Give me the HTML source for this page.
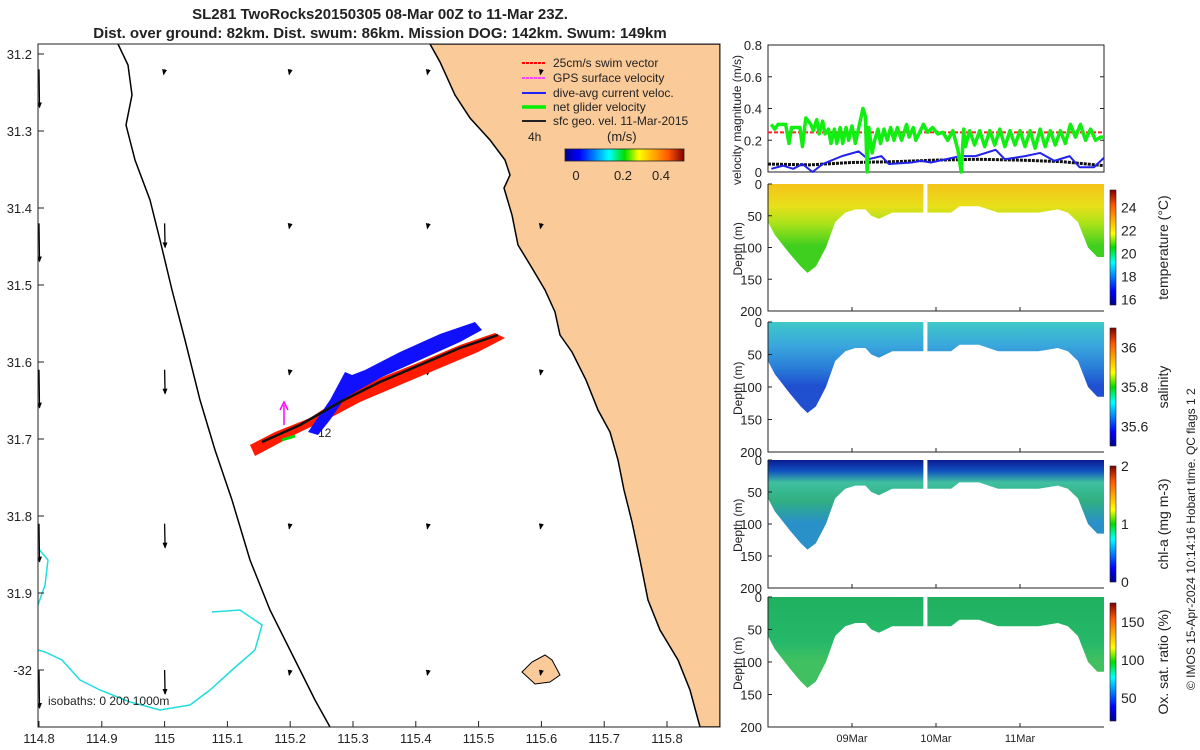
<!DOCTYPE html>
<html><head><meta charset="utf-8">
<style>
html,body{margin:0;padding:0;background:#fff;}
svg{display:block;font-family:"Liberation Sans",sans-serif;}
text{fill:#222;}
</style></head>
<body>
<svg id="fig" width="1200" height="750" viewBox="0 0 1200 750" xmlns="http://www.w3.org/2000/svg">
<defs>
<linearGradient id="jet" x1="0" y1="0" x2="1" y2="0">
<stop offset="0" stop-color="#00008f"/><stop offset="0.12" stop-color="#0000ff"/><stop offset="0.37" stop-color="#00ffff"/><stop offset="0.5" stop-color="#00dd00"/><stop offset="0.62" stop-color="#ffff00"/><stop offset="0.87" stop-color="#ff5500"/><stop offset="1" stop-color="#800000"/>
</linearGradient>
<linearGradient id="jetv" x1="0" y1="1" x2="0" y2="0">
<stop offset="0" stop-color="#00008f"/><stop offset="0.12" stop-color="#0000ff"/><stop offset="0.37" stop-color="#00ffff"/><stop offset="0.5" stop-color="#00dd00"/><stop offset="0.62" stop-color="#ffff00"/><stop offset="0.87" stop-color="#ff5500"/><stop offset="1" stop-color="#800000"/>
</linearGradient>
<linearGradient id="gT" x1="0" y1="0" x2="0" y2="1"><stop offset="0" stop-color="#f5c21a"/><stop offset="0.25" stop-color="#e8e01a"/><stop offset="0.45" stop-color="#a8e21a"/><stop offset="0.7" stop-color="#3fcf1f"/></linearGradient>
<linearGradient id="gS" x1="0" y1="0" x2="0" y2="1"><stop offset="0" stop-color="#3ec8c8"/><stop offset="0.25" stop-color="#3aa8dc"/><stop offset="0.5" stop-color="#2a7ed8"/><stop offset="0.7" stop-color="#2050d0"/></linearGradient>
<linearGradient id="gC" x1="0" y1="0" x2="0" y2="1"><stop offset="0" stop-color="#0a1a90"/><stop offset="0.12" stop-color="#1050c0"/><stop offset="0.25" stop-color="#40c0a0"/><stop offset="0.45" stop-color="#30b080"/><stop offset="0.7" stop-color="#2a90c8"/></linearGradient>
<linearGradient id="gO" x1="0" y1="0" x2="0" y2="1"><stop offset="0" stop-color="#1fb060"/><stop offset="0.5" stop-color="#26b86a"/><stop offset="0.7" stop-color="#40c060"/></linearGradient>
<marker id="ah" markerUnits="userSpaceOnUse" markerWidth="6" markerHeight="6" refX="5" refY="3" orient="auto"><path d="M0,0.5 L6,3 L0,5.5 z" fill="#000"/></marker>
</defs>

<text x="380" y="19" text-anchor="middle" font-size="15" font-weight="bold">SL281 TwoRocks20150305 08-Mar 00Z to 11-Mar 23Z.</text>
<text x="380" y="38" text-anchor="middle" font-size="15" font-weight="bold">Dist. over ground: 82km. Dist. swum: 86km. Mission DOG: 142km. Swum: 149km</text>

<g id="map">
<clipPath id="mapclip"><rect x="38" y="44" width="682" height="683"/></clipPath>
<g clip-path="url(#mapclip)">
<rect x="38" y="44" width="682" height="683" fill="#fff"/>
<path fill="#facb98" stroke="#000" stroke-width="1.5" d="M430,44 L440,62 L455,95 L470,118 L490,140 L505,160 L510,175 L504,188 L512,215 L518,245 L532,268 L545,290 L555,312 L560,335 L572,352 L586,380 L598,410 L610,432 L618,460 L624,490 L632,522 L640,560 L648,600 L660,630 L678,660 L690,690 L700,727 L720,727 L720,44 Z"/>
<path fill="#facb98" stroke="#000" stroke-width="1" d="M522,672 L532,662 L545,655 L552,660 L560,675 L550,682 L535,684 Z"/>
<path fill="none" stroke="#000" stroke-width="1.5" d="M118,44 L128,65 L132,95 L126,125 L135,160 L150,200 L160,240 L172,290 L185,340 L200,400 L215,450 L232,500 L250,560 L270,610 L295,660 L315,700 L330,727"/>
<path fill="none" stroke="#22dddd" stroke-width="1.5" d="M38,548 L48,560 L45,585 L38,605 M212,612 L240,610 L262,625 L255,650 L232,670 L210,690 L190,705 L160,710 L130,702 L100,690 L80,680 L62,660 L45,652 L38,650"/>
<g id="arrows"></g>
<path fill="#ff1a00" d="M250,445 L275,432 L310,418 L345,395 L380,378 L420,362 L460,345 L495,333 L505,338 L478,352 L440,368 L400,385 L360,402 L330,418 L300,432 L270,448 L255,456 Z"/>
<path fill="#1010ff" d="M330,400 L345,372 L352,375 L365,370 L400,352 L440,334 L475,322 L482,330 L460,342 L420,360 L380,378 L345,398 L330,420 L318,435 L308,432 Z"/>
<path fill="none" stroke="#111" stroke-width="2.5" d="M262,442 L300,425 L340,402 L380,382 L420,365 L460,348 L498,335"/>
<path fill="none" stroke="#00dd00" stroke-width="3" d="M282,440 L295,436"/>
<line x1="284" y1="425" x2="284" y2="405" stroke="#ff00ff" stroke-width="1.5"/>
<path d="M280,410 L284,402 L288,410" fill="none" stroke="#ff00ff" stroke-width="1.5"/>
<text x="318" y="437" font-size="12">12</text>
<text x="48" y="705" font-size="12">isobaths: 0   200  1000m</text>
</g>
<rect x="38" y="44" width="682" height="683" fill="none" stroke="#222" stroke-width="1"/>
<g font-size="12">
<line x1="522" y1="63" x2="546" y2="63" stroke="#ff0000" stroke-width="2" stroke-dasharray="3,1"/><text x="553" y="67">25cm/s swim vector</text>
<line x1="522" y1="78" x2="546" y2="78" stroke="#ff44ff" stroke-width="2" stroke-dasharray="3,1"/><text x="553" y="82">GPS surface velocity</text>
<line x1="522" y1="93" x2="546" y2="93" stroke="#2222ff" stroke-width="2"/><text x="553" y="97">dive-avg current veloc.</text>
<line x1="522" y1="107" x2="546" y2="107" stroke="#00ee00" stroke-width="3.5"/><text x="553" y="111">net glider velocity</text>
<line x1="522" y1="121" x2="546" y2="121" stroke="#222" stroke-width="2"/><text x="553" y="125">sfc geo. vel. 11-Mar-2015</text>
<text x="528" y="141">4h</text><text x="607" y="141" font-size="13">(m/s)</text>
<rect x="565" y="149" width="119" height="12" fill="url(#jet)" stroke="#222" stroke-width="0.8"/>
<text x="576" y="180" text-anchor="middle" font-size="13">0</text><text x="623" y="180" text-anchor="middle" font-size="13">0.2</text><text x="661" y="180" text-anchor="middle" font-size="13">0.4</text>
</g>
<g id="mapticks" font-size="13"></g>
</g>

<g id="right"></g>
<text transform="translate(1195,690) rotate(-90)" font-size="12">© IMOS 15-Apr-2024 10:14:16 Hobart time. QC flags 1  2</text>
</svg>

<script>
// ---------- map data ----------
const lonTicks = [114.8,114.9,115,115.1,115.2,115.3,115.4,115.5,115.6,115.7,115.8];
const lonLabels = ["114.8","114.9","115","115.1","115.2","115.3","115.4","115.5","115.6","115.7","115.8"];
const latTicks = [31.2,31.3,31.4,31.5,31.6,31.7,31.8,31.9,32];
const latLabels = ["31.2","31.3","31.4","31.5","31.6","31.7","31.8","31.9","-32"];
const arrowLon = [115.0,115.2,115.42,115.6,114.8];
const arrowLat = [31.22,31.42,31.61,31.81,32.0];
// ---------- time series data ----------
const dayTicks = [1,2,3];
const dayLabels = ["09Mar","10Mar","11Mar"];
const netT = [0.04,0.08,0.12,0.21,0.25,0.28,0.38,0.41,0.45,0.51,0.54,0.58,0.61,0.65,0.68,0.72,0.75,0.79,0.82,0.86,0.89,0.93,0.96,1.0,1.04,1.08,1.11,1.13,1.16,1.18,1.2,1.24,1.27,1.31,1.34,1.38,1.42,1.46,1.5,1.54,1.59,1.65,1.68,1.73,1.76,1.85,1.9,1.96,2.02,2.08,2.14,2.2,2.26,2.3,2.33,2.35,2.4,2.46,2.52,2.58,2.64,2.7,2.76,2.82,2.88,2.94,3.0,3.06,3.12,3.18,3.24,3.3,3.36,3.42,3.48,3.54,3.6,3.66,3.72,3.78,3.84,3.9,3.96,4.0];
const netV = [0.30,0.27,0.30,0.30,0.18,0.28,0.28,0.16,0.34,0.30,0.26,0.33,0.24,0.32,0.24,0.27,0.18,0.27,0.18,0.28,0.18,0.28,0.20,0.29,0.18,0.28,0.35,0.40,0.35,0.00,0.28,0.12,0.20,0.27,0.18,0.27,0.20,0.28,0.20,0.28,0.20,0.30,0.22,0.28,0.20,0.30,0.25,0.28,0.24,0.25,0.20,0.26,0.14,0.00,0.27,0.16,0.26,0.17,0.26,0.16,0.26,0.17,0.27,0.16,0.26,0.17,0.26,0.16,0.26,0.15,0.27,0.16,0.26,0.17,0.26,0.18,0.30,0.22,0.30,0.20,0.27,0.20,0.22,0.22];
const curT = [0.04,0.18,0.3,0.41,0.53,0.65,0.88,1.08,1.19,1.35,1.44,1.71,1.82,1.94,2.29,2.47,2.71,2.82,3.06,3.24,3.41,3.59,3.71,3.88,4.0];
const curV = [0.02,0.04,0.02,0.05,0.00,0.05,0.10,0.13,0.08,0.10,0.05,0.06,0.07,0.06,0.10,0.10,0.14,0.08,0.10,0.12,0.07,0.10,0.03,0.03,0.09];
const geoT = [0.0,0.5,1.0,1.5,2.0,2.5,3.0,3.5,4.0];
const geoV = [0.05,0.045,0.06,0.065,0.075,0.08,0.075,0.065,0.04];
const swimV = 0.25;
const profT = [0.0,0.08,0.26,0.39,0.47,0.57,0.69,0.8,0.92,1.04,1.16,1.23,1.32,1.48,1.66,1.81,1.87,1.93,2.18,2.28,2.51,2.74,2.98,3.22,3.45,3.57,3.69,3.81,3.92,4.0];
const profDepth = [60,80,110,130,140,130,100,60,45,40,40,50,55,45,45,45,45,45,45,35,35,45,45,45,40,45,60,100,115,115];
const tempTicks = [16,18,20,22,24]; const tempRange=[15.5,25.5];
const salTicks = [35.6,35.8,36]; const salRange=[35.5,36.1];
const chlTicks = [0,1,2]; const chlRange=[0,2];
const oxyTicks = [50,100,150]; const oxyRange=[20,175];

const NS="http://www.w3.org/2000/svg";
function mk(tag, attrs, parent){const e=document.createElementNS(NS,tag);for(const k in attrs)e.setAttribute(k,attrs[k]);parent.appendChild(e);return e;}
const lonX = v => 39 + (v-114.8)*628;
const latY = v => 54 + (v-31.2)*770;
const mt=document.getElementById('mapticks');
lonTicks.forEach((v,i)=>{
  const t=mk('text',{x:lonX(v),y:743,'text-anchor':'middle'},mt);t.textContent=lonLabels[i];
  
  
  mk('line',{x1:lonX(v),x2:lonX(v),y1:727,y2:721,stroke:'#222'},mt);
});
latTicks.forEach((v,i)=>{
  const t=mk('text',{x:32,y:latY(v)+5,'text-anchor':'end'},mt);t.textContent=latLabels[i];
  
  
  mk('line',{x1:38,x2:44,y1:latY(v),y2:latY(v),stroke:'#222'},mt);
});
const ag=document.getElementById('arrows');
arrowLon.forEach((lo,i)=>{arrowLat.forEach((la,j)=>{
  const x=lonX(lo), y=latY(la);
  let len=5;
  if(lo===114.8) len=38;
  if(lo===115.0) len=(j==0?5:24);
  const a=mk('line',{x1:x,y1:y,x2:x+(len>10?0.5:-1),y2:y+len,stroke:'#000','stroke-width':1.3,'marker-end':'url(#ah)'},ag);
  
  
});});

const R=document.getElementById('right');
const X0=768, X1=1104;
const tx = t => X0 + t/4*(X1-X0);
const vy = v => 172 - v/0.8*127;
mk('rect',{x:X0,y:45,width:X1-X0,height:127,fill:'#fff',stroke:'#222'},R);
[0,0.2,0.4,0.6,0.8].forEach(v=>{
  const t=mk('text',{x:762,y:vy(v)+5,'text-anchor':'end','font-size':13},R);t.textContent=v;
  
  
  mk('line',{x1:X0,x2:X0+4,y1:vy(v),y2:vy(v),stroke:'#222'},R);
  mk('line',{x1:X1,x2:X1-4,y1:vy(v),y2:vy(v),stroke:'#222'},R);
});
const vl=mk('text',{transform:'translate(741,185) rotate(-90)','font-size':12},R);vl.textContent='velocity magnitude (m/s)';


function poly(T,V,stroke,w,name,dash){
  const p=mk('polyline',{points:T.map((t,i)=>tx(t)+','+vy(V[i])).join(' '),fill:'none',stroke:stroke,'stroke-width':w,'stroke-linejoin':'round'},R);
  if(dash)p.setAttribute('stroke-dasharray',dash);
  
  
}
poly([0.0,4],[swimV,swimV],'#ff2222',2,'swim-speed-line','4,2');
poly(geoT,geoV,'#111',3,'geostrophic-line','3,1');
poly(curT,curV,'#2222ee',2,'current-line');
poly(netT,netV,'#11ee11',3.5,'net-velocity-line');

function section(top,bot,fill,ticks,range,label,name,showX){
  const h=bot-top;
  const dy = d => top + d/200*h;
  let pts=[[tx(profT[0]),top]];
  profT.forEach((t,i)=>pts.push([tx(t),dy(profDepth[i])]));
  pts.push([tx(profT[profT.length-1]),top]);
  const p=mk('polygon',{points:pts.map(q=>q.join(',')).join(' '),fill:fill},R);
  
  
  mk('rect',{x:tx(1.85),y:top,width:4,height:h*0.3,fill:'#fff'},R);
  mk('polyline',{points:`${X0},${top} ${X0},${bot} ${X1},${bot}`,fill:'none',stroke:'#222'},R);
  [0,50,100,150,200].forEach(d=>{
    const t=mk('text',{x:762,y:dy(d)+5,'text-anchor':'end','font-size':13},R);t.textContent=d;
    
    
    mk('line',{x1:X0,x2:X0+4,y1:dy(d),y2:dy(d),stroke:'#222'},R);
  });
  const yl=mk('text',{transform:`translate(742,${top+h/2+28}) rotate(-90)`,'font-size':12},R);yl.textContent='Depth (m)';
  
  
  dayTicks.forEach((d,i)=>{
    mk('line',{x1:tx(d),x2:tx(d),y1:bot,y2:bot-4,stroke:'#222'},R);
    if(showX){const t=mk('text',{x:tx(d),y:bot+15,'text-anchor':'middle','font-size':11},R);t.textContent=dayLabels[i];
      
      }
  });
  const cb=mk('rect',{x:1110,y:top+6,width:6,height:h-12,fill:'url(#jetv)',stroke:'#222','stroke-width':0.6},R);
  
  
  const cy = v => top+h-6 - (v-range[0])/(range[1]-range[0])*(h-12);
  ticks.forEach(v=>{
    const t=mk('text',{x:1121,y:cy(v)+5,'font-size':14},R);t.textContent=v;
    
    
  });
  const cl=mk('text',{transform:`translate(1168,${top+h/2}) rotate(-90)`,'text-anchor':'middle','font-size':14},R);cl.textContent=label;
  
  
}
section(184,311,'url(#gT)',tempTicks,tempRange,'temperature (°C)','temperature',false);
section(322,452,'url(#gS)',salTicks,salRange,'salinity','salinity',false);
section(460,588,'url(#gC)',chlTicks,chlRange,'chl-a (mg m-3)','chlorophyll',false);
section(597,727,'url(#gO)',oxyTicks,oxyRange,'Ox. sat. ratio (%)','oxygen',true);
</script>
</body></html>
